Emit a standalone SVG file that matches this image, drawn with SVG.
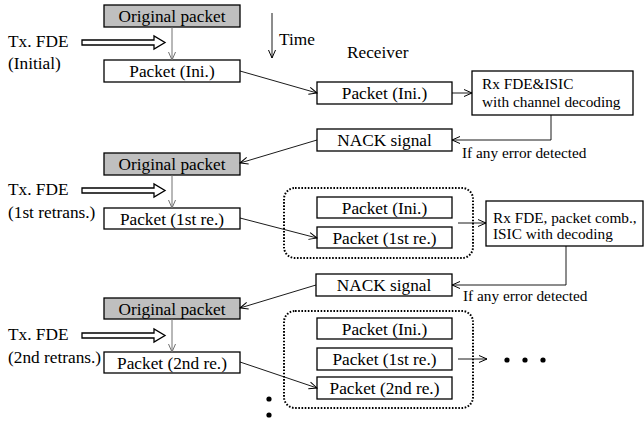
<svg xmlns="http://www.w3.org/2000/svg" width="644" height="424" viewBox="0 0 644 424" font-family="'Liberation Serif', 'Times New Roman', Times, serif">
<defs>
<marker id="ah" markerWidth="10" markerHeight="10" refX="9" refY="5" orient="auto" markerUnits="userSpaceOnUse">
<path d="M1,1.5 L9,5 L1,8.5" fill="none" stroke="#000" stroke-width="1"/>
</marker>
<marker id="ahg" markerWidth="10" markerHeight="10" refX="9" refY="5" orient="auto" markerUnits="userSpaceOnUse">
<path d="M1,1.5 L9,5 L1,8.5" fill="none" stroke="#707070" stroke-width="1"/>
</marker>
</defs>
<style>
text{font-family:'Liberation Serif','Times New Roman',Times,serif;fill:#000}
.t17{font-size:17.3px}
.t15{font-size:15.3px}
.box{fill:#fff;stroke:#000;stroke-width:1.3}
.orig{fill:#bfbfbf;stroke:#000;stroke-width:1.3}
.c{text-anchor:middle}
.ln{fill:none;stroke:#000;stroke-width:0.9}
.gl{fill:none;stroke:#707070;stroke-width:1}
.dot{fill:none;stroke:#000;stroke-width:2;stroke-dasharray:1.6 1.6}
.hollow{fill:#fff;stroke:#000;stroke-width:1.3}
</style>
<rect width="644" height="424" fill="#fff"/>

<g id="labels">
<text class="t17" x="279" y="45">Time</text>
<text class="t17" x="347" y="58">Receiver</text>
<text class="t17" x="8" y="47">Tx. FDE</text>
<text class="t17" x="8" y="69">(Initial)</text>
<text class="t17" x="8" y="195">Tx. FDE</text>
<text class="t17" x="8" y="218">(1st retrans.)</text>
<text class="t17" x="8" y="340">Tx. FDE</text>
<text class="t17" x="8" y="363">(2nd retrans.)</text>
<text class="t15" x="462" y="158">If any error detected</text>
<text class="t15" x="463" y="301">If any error detected</text>
</g>

<g id="hollow-arrows">
<path class="hollow" d="M82,40 H154 V36 L165,42.5 L154,49 V45 H82 Z"/>
<path class="hollow" d="M82,188 H154 V184 L165,190.5 L154,197 V193 H82 Z"/>
<path class="hollow" d="M82,333 H154 V329 L165,335.5 L154,342 V338 H82 Z"/>
</g>

<g id="tx-orig-0"><rect class="orig" x="104" y="5" width="136" height="22"/><text class="t17 c" x="172" y="22">Original packet</text></g>
<g id="tx-pkt-0"><rect class="box" x="104" y="60" width="136" height="22"/><text class="t17 c" x="172" y="77">Packet (Ini.)</text></g>
<g id="tx-orig-1"><rect class="orig" x="104" y="153" width="136" height="22"/><text class="t17 c" x="172" y="170">Original packet</text></g>
<g id="tx-pkt-1"><rect class="box" x="104" y="208" width="136" height="21"/><text class="t17 c" x="172" y="225">Packet (1st re.)</text></g>
<g id="tx-orig-2"><rect class="orig" x="104" y="298" width="136" height="21"/><text class="t17 c" x="172" y="315">Original packet</text></g>
<g id="tx-pkt-2"><rect class="box" x="104" y="352" width="136" height="21"/><text class="t17 c" x="172" y="369">Packet (2nd re.)</text></g>

<g id="rx-pkt-0"><rect class="box" x="317" y="82" width="135" height="22"/><text class="t17 c" x="384.5" y="99">Packet (Ini.)</text></g>
<g id="rx-proc-0"><rect class="box" x="472" y="71" width="161" height="44"/><text class="t15" x="482" y="89">Rx FDE&amp;ISIC</text><text class="t15" x="482" y="107">with channel decoding</text></g>
<g id="nack-1"><rect class="box" x="317" y="129" width="135" height="22"/><text class="t17 c" x="384.5" y="146">NACK signal</text></g>

<g id="group-1"><rect class="dot" x="284" y="188" width="189" height="70" rx="11"/></g>
<g id="rx-pkt-1a"><rect class="box" x="317" y="197" width="135" height="21"/><text class="t17 c" x="384.5" y="214">Packet (Ini.)</text></g>
<g id="rx-pkt-1b"><rect class="box" x="317" y="227" width="135" height="21"/><text class="t17 c" x="384.5" y="244">Packet (1st re.)</text></g>
<g id="rx-proc-1"><rect class="box" x="486" y="201" width="157" height="45"/><text class="t15" x="493" y="223">Rx FDE, packet comb.,</text><text class="t15" x="493" y="239">ISIC with decoding</text></g>
<g id="nack-2"><rect class="box" x="316" y="274" width="136" height="22"/><text class="t17 c" x="384" y="291">NACK signal</text></g>

<g id="group-2"><rect class="dot" x="284" y="311" width="189" height="97" rx="11"/></g>
<g id="rx-pkt-2a"><rect class="box" x="317" y="318" width="135" height="21"/><text class="t17 c" x="384.5" y="335">Packet (Ini.)</text></g>
<g id="rx-pkt-2b"><rect class="box" x="317" y="348" width="135" height="22"/><text class="t17 c" x="384.5" y="365">Packet (1st re.)</text></g>
<g id="rx-pkt-2c"><rect class="box" x="317" y="377" width="135" height="22"/><text class="t17 c" x="384.5" y="394">Packet (2nd re.)</text></g>

<g id="ellipsis">
<circle cx="507" cy="360" r="2.6"/><circle cx="525" cy="360" r="2.6"/><circle cx="543" cy="360" r="2.6"/>
<circle cx="269" cy="399" r="2.6"/><circle cx="269" cy="415" r="2.6"/>
</g>

<g id="connectors">
<line class="ln" x1="272" y1="13" x2="272" y2="58" marker-end="url(#ah)"/>
<line class="gl" x1="172" y1="27" x2="172" y2="60" marker-end="url(#ahg)"/>
<line class="gl" x1="172" y1="175" x2="172" y2="208" marker-end="url(#ahg)"/>
<line class="gl" x1="172" y1="319" x2="172" y2="352" marker-end="url(#ahg)"/>
<line class="ln" x1="240" y1="71" x2="317" y2="93" marker-end="url(#ah)"/>
<line class="ln" x1="452" y1="93" x2="472" y2="93" marker-end="url(#ah)"/>
<polyline class="ln" points="551,115 551,140 452,140" marker-end="url(#ah)"/>
<line class="ln" x1="317" y1="140" x2="240" y2="163" marker-end="url(#ah)"/>
<line class="ln" x1="240" y1="218" x2="317" y2="238" marker-end="url(#ah)"/>
<line class="ln" x1="458" y1="223" x2="486" y2="223" marker-end="url(#ah)"/>
<polyline class="ln" points="566,246 566,285 452,285" marker-end="url(#ah)"/>
<line class="ln" x1="316" y1="285" x2="240" y2="308" marker-end="url(#ah)"/>
<line class="ln" x1="240" y1="362" x2="317" y2="388" marker-end="url(#ah)"/>
<line class="ln" x1="458" y1="359" x2="487" y2="359" marker-end="url(#ah)"/>
</g>
</svg>
